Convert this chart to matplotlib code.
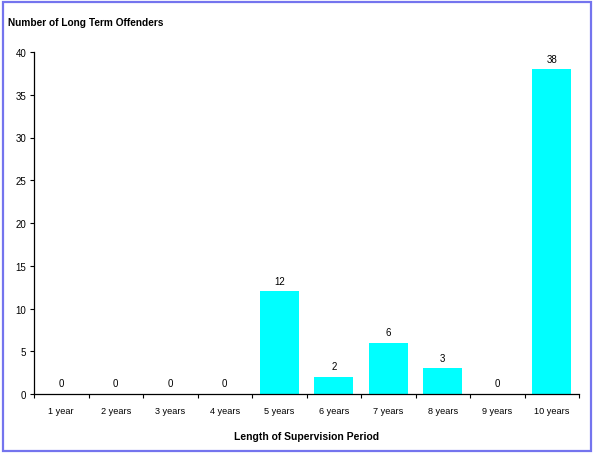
import numpy as np
import matplotlib
matplotlib.use("Agg")
import matplotlib.pyplot as plt
from matplotlib.patches import Rectangle

plt.rcParams["font.family"] = ["Liberation Sans", "DejaVu Sans"]

categories = ["1 year", "2 years", "3 years", "4 years", "5 years",
              "6 years", "7 years", "8 years", "9 years", "10 years"]
offenders = [0, 0, 0, 0, 12, 2, 6, 3, 0, 38]
yticks = [0, 5, 10, 15, 20, 25, 30, 35, 40]

fig = plt.figure(figsize=(5.95, 4.56), dpi=100)
ax = fig.add_axes([34/595, 61/456, 545/595, 342/456])

x = np.arange(len(categories))
ax.bar(x, offenders, width=0.72, color="#00ffff", edgecolor="none")
for xi, v in zip(x, offenders):
    ax.annotate(f"{v}", (xi, v), xytext=(0, 4), textcoords="offset points",
                ha="center", va="bottom", fontsize=7)

ax.set_xlim(-0.5, len(categories) - 0.5)
ax.set_ylim(0, 40)
ax.set_yticks(yticks)
ax.tick_params(axis="y", direction="out", length=3, width=0.8, labelsize=7, pad=2.5)
ax.set_xticks(x)
ax.set_xticklabels(categories)
ax.tick_params(axis="x", which="major", length=0, labelsize=6.6, pad=9)
ax.set_xticks(np.arange(-0.5, len(categories)), minor=True)
ax.tick_params(axis="x", which="minor", direction="out", length=3, width=0.8)
for s in ("top", "right"):
    ax.spines[s].set_visible(False)
for s in ("left", "bottom"):
    ax.spines[s].set_linewidth(0.9)

ax.set_xlabel("Length of Supervision Period", fontsize=7.5, fontweight="bold", labelpad=11)
fig.text(8/595, 1 - 23/456, "Number of Long Term Offenders", fontsize=7.3,
         fontweight="bold", va="center", ha="left")

fig.patches.append(Rectangle((3/595, 4/456), 588/595, 449/456, transform=fig.transFigure,
                             fill=False, edgecolor="#7474ee", linewidth=1.6))

fig.savefig("out.png", dpi=100)
